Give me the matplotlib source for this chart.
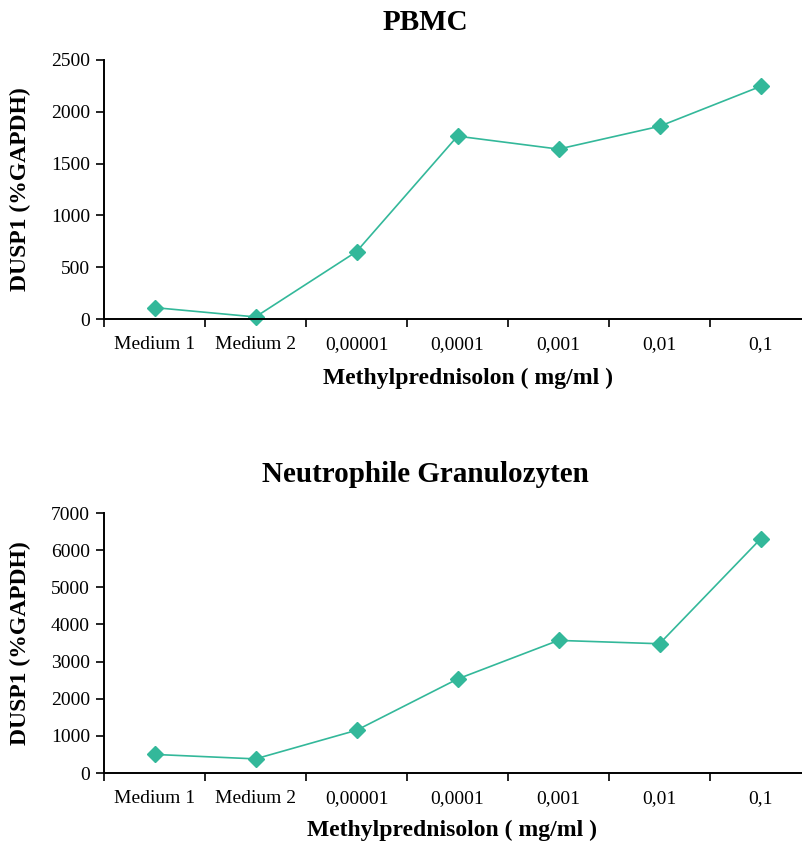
import matplotlib
matplotlib.use("Agg")
import matplotlib.pyplot as plt
import numpy as np

categories = ["Medium 1", "Medium 2", "0,00001", "0,0001", "0,001", "0,01", "0,1"]
pbmc_values = [110, 20, 650, 1765, 1640, 1860, 2245]
neutro_values = [500, 380, 1150, 2530, 3570, 3480, 6300]
pbmc_yticks = [0, 500, 1000, 1500, 2000, 2500]
neutro_yticks = [0, 1000, 2000, 3000, 4000, 5000, 6000, 7000]

plt.rcParams['font.family'] = ['Liberation Serif', 'DejaVu Serif']
color = '#33b89a'

fig = plt.figure(figsize=(8.02, 8.43), dpi=100)
W, H = 802, 843

def make_axes(top_px, bottom_px, values, yticks, title, title_y_px, xlabel_x_px, xlabel_y_px):
    left_px, right_px = 104, 811
    ax = fig.add_axes([left_px / W, 1 - bottom_px / H, (right_px - left_px) / W, (bottom_px - top_px) / H])
    x = np.arange(len(categories))
    ax.plot(x, values, color=color, lw=1.2, marker='D', ms=8.5, mec=color, mfc=color, clip_on=False)
    ax.set_xlim(-0.5, len(categories) - 0.5)
    ax.set_ylim(yticks[0], yticks[-1])
    ax.set_yticks(yticks)
    ax.set_xticks(x)
    ax.set_xticklabels(categories)
    ax.set_xticks(np.arange(len(categories) + 1) - 0.5, minor=True)
    ax.tick_params(axis='x', which='major', length=0, pad=12, labelsize=14)
    ax.tick_params(axis='x', which='minor', length=6, width=1.2, direction='out')
    ax.tick_params(axis='y', length=6, width=1.2, direction='out', labelsize=14, pad=4)
    for s in ['top', 'right']:
        ax.spines[s].set_visible(False)
    for s in ['left', 'bottom']:
        ax.spines[s].set_linewidth(1.4)
    ax.set_ylabel("DUSP1 (%GAPDH)", fontsize=17, fontweight='bold', va='center')
    ax.yaxis.set_label_coords((20 - left_px) / (right_px - left_px), 0.5)
    fig.text(425 / W, 1 - title_y_px / H, title, ha='center', va='center', fontsize=21, fontweight='bold')
    fig.text(xlabel_x_px / W, 1 - xlabel_y_px / H, "Methylprednisolon ( mg/ml )", ha='center', va='center',
             fontsize=17, fontweight='bold')
    return ax

make_axes(60, 319, pbmc_values, pbmc_yticks, "PBMC", 23, 468, 378)
make_axes(513, 773, neutro_values, neutro_yticks, "Neutrophile Granulozyten", 475, 452, 830)

fig.savefig("out.png", dpi=100)
